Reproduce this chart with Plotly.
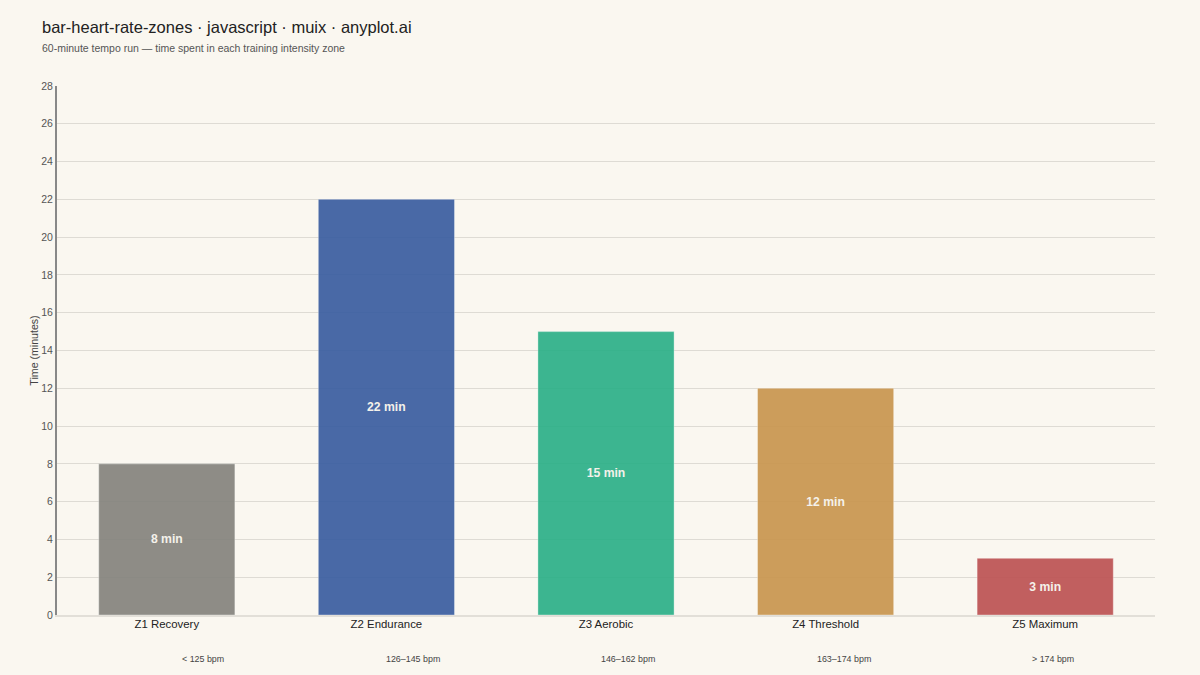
import plotly.graph_objects as go

zones = ["Z1 Recovery", "Z2 Endurance", "Z3 Aerobic", "Z4 Threshold", "Z5 Maximum"]
minutes = [8, 22, 15, 12, 3]
bpm_ranges = ["< 125 bpm", "126–145 bpm", "146–162 bpm", "163–174 bpm", "> 174 bpm"]
colors = ["#85847e", "#3a5ea0", "#2cb088", "#c9964f", "#bd5353"]
bpm_xshift = [36, 27, 22, 18, 8]

FONT = "Liberation Sans, Arial, sans-serif"

fig = go.Figure()
fig.add_trace(go.Bar(
    x=zones, y=minutes,
    marker=dict(color=colors, opacity=0.92, line=dict(color="rgba(255,255,255,0.35)", width=1)),
    width=0.62,
    text=[f"{m} min" for m in minutes],
    textposition="inside", insidetextanchor="middle",
    textfont=dict(family=FONT, size=12.2, color="#f4f1ea", weight="bold"),
    hoverinfo="skip",
))

for z, b, s in zip(zones, bpm_ranges, bpm_xshift):
    fig.add_annotation(x=z, xref="x", y=0, yref="paper", yanchor="middle",
                       yshift=-44, xshift=s, text=b, showarrow=False,
                       font=dict(family=FONT, size=8.9, color="#444"))

fig.add_annotation(x=0, xref="paper", y=1, yref="paper", xanchor="left", yanchor="middle",
                   xshift=-17, yshift=59, showarrow=False,
                   text="bar-heart-rate-zones · javascript · muix · anyplot.ai",
                   font=dict(family=FONT, size=16.5, color="#222"))
fig.add_annotation(x=0, xref="paper", y=1, yref="paper", xanchor="left", yanchor="middle",
                   xshift=-17, yshift=38, showarrow=False,
                   text="60-minute tempo run — time spent in each training intensity zone",
                   font=dict(family=FONT, size=10.5, color="#555"))

fig.update_layout(
    width=1200, height=675,
    paper_bgcolor="#faf7f0", plot_bgcolor="#faf7f0",
    margin=dict(l=57, r=45, t=86, b=60),
    font=dict(family=FONT, color="#333"),
    showlegend=False,
)
fig.update_yaxes(
    range=[0, 28], dtick=2, showgrid=True, gridcolor="#dedbd4", gridwidth=1,
    showline=True, linecolor="#888", linewidth=2, ticks="", zeroline=False,
    tickfont=dict(size=10.5, color="#555"),
    title=dict(text="Time (minutes)", font=dict(size=10.6, color="#444"), standoff=1),
)
fig.update_xaxes(
    showline=True, linecolor="#e2dfd8", linewidth=2, ticks="",
    tickfont=dict(size=11.4, color="#222"), ticklabelstandoff=-3,
)

fig.write_html("out.html", config={"displayModeBar": False},
               post_script="document.body.style.margin='0';document.body.style.background='#faf7f0';")
